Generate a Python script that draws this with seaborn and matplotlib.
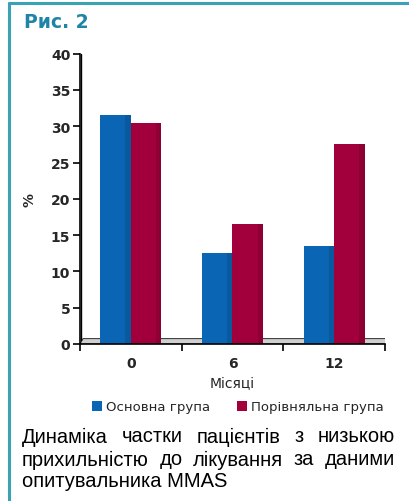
import matplotlib
matplotlib.use("Agg")
import matplotlib.pyplot as plt
from matplotlib.patches import Polygon, Patch
from matplotlib.lines import Line2D
import seaborn as sns
import pandas as pd

# Data
months = ["0", "6", "12"]
main_group = [31.5, 12.5, 13.5]
comparison_group = [30.5, 16.5, 27.5]
group_names = ["Основна група", "Порівняльна група"]
y_ticks = [0, 5, 10, 15, 20, 25, 30, 35, 40]

colors = ["#0a66b4", "#a2003c"]

df = pd.DataFrame({
    "month": months * 2,
    "value": main_group + comparison_group,
    "group": [group_names[0]] * 3 + [group_names[1]] * 3,
})

sns.set_theme(style="white")
plt.rcParams["font.family"] = ["DejaVu Sans"]

W, H = 409, 502
fig = plt.figure(figsize=(W / 100, H / 100), dpi=100)

def fx(px):
    return px / W

def fy(py):
    return 1 - py / H

ax = fig.add_axes([fx(80), fy(345), fx(385) - fx(80), fy(54.7) - fy(345)])

sns.barplot(data=df, x="month", y="value", hue="group", order=months,
            hue_order=group_names, palette=colors, width=0.6,
            saturation=1, edgecolor="none", legend=False, ax=ax)

# slight shading on the right side of each bar
for bar in ax.patches:
    x0 = bar.get_x()
    w = bar.get_width()
    h = bar.get_height()
    ax.fill_between([x0 + w * 0.82, x0 + w], 0, h, color="black", alpha=0.12,
                    linewidth=0, zorder=bar.get_zorder() + 0.1)

ax.set_xlim(-0.5, 2.5)
ax.set_ylim(0, 40)
ax.set_yticks(y_ticks)
ax.set_yticklabels([str(t) for t in y_ticks], fontsize=10, fontweight="bold")
ax.set_xticks(range(len(months)))
ax.set_xticklabels(months, fontsize=10, fontweight="bold")
ax.set_xticks([-0.5, 0.5, 1.5, 2.5], minor=True)
ax.tick_params(axis="x", which="major", length=0, pad=9)
ax.tick_params(axis="x", which="minor", length=5, width=1.2, color="black",
               direction="out", bottom=True)
ax.tick_params(axis="y", length=5, width=1.2, color="black",
               direction="out", left=True, pad=2)

ax.set_xlabel("Місяці", fontsize=10, labelpad=4)
ax.set_ylabel("%", fontsize=10, fontweight="bold", labelpad=10)

for s in ["top", "right"]:
    ax.spines[s].set_visible(False)
ax.spines["left"].set_color("black")
ax.spines["left"].set_linewidth(1.2)
ax.spines["bottom"].set_color("black")
ax.spines["bottom"].set_linewidth(1.2)

# back wall edge next to the y axis
ax.plot([-0.49, -0.49], [0.6, 40], color="black", lw=1.0, zorder=1,
        clip_on=False)

# floor of the plot
floor = Polygon([(-0.5, 0), (2.5, 0), (2.53, 0.75), (-0.47, 0.75)],
                closed=True, facecolor="#cfcfcf", edgecolor="#444444",
                lw=0.8, zorder=0.5)
ax.add_patch(floor)

# frame
fig.add_artist(Line2D([fx(9), fx(9)], [0, fy(4)], color="#3aa3b3", lw=2.2))
fig.add_artist(Line2D([fx(9), 1], [fy(4), fy(4)], color="#3aa3b3", lw=2.2))

fig.text(fx(24), fy(23), "Рис. 2", fontsize=13.5, fontweight="bold",
         color="#1f84a6", va="center", ha="left")

# legend
handles = [Patch(facecolor=c, edgecolor="none") for c in colors]
fig.legend(handles, group_names, loc="center", bbox_to_anchor=(fx(238), fy(408)),
           ncol=2, frameon=False, fontsize=9.5, handlelength=0.8,
           handleheight=0.8, handletextpad=0.3, columnspacing=2.0)

# caption, justified
caption_lines = [
    "Динаміка частки пацієнтів з низькою",
    "прихильністю до лікування за даними",
    "опитувальника MMAS",
]
cap_left, cap_right = 22, 395
cap_y = [437, 460, 482]
fig.canvas.draw()
renderer = fig.canvas.get_renderer()
cap_props = dict(fontsize=14.5, family="Liberation Sans", va="center",
                 ha="left", color="black")
for i, line in enumerate(caption_lines):
    words = line.split(" ")
    if i == len(caption_lines) - 1:
        fig.text(fx(cap_left), fy(cap_y[i]), line, **cap_props)
        continue
    texts = [fig.text(0, fy(cap_y[i]), w, **cap_props) for w in words]
    widths = [t.get_window_extent(renderer).width for t in texts]
    gap = (cap_right - cap_left - sum(widths)) / (len(words) - 1)
    x = cap_left
    for t, w in zip(texts, widths):
        t.set_x(fx(x))
        x += w + gap

fig.savefig("out.png", dpi=100)
